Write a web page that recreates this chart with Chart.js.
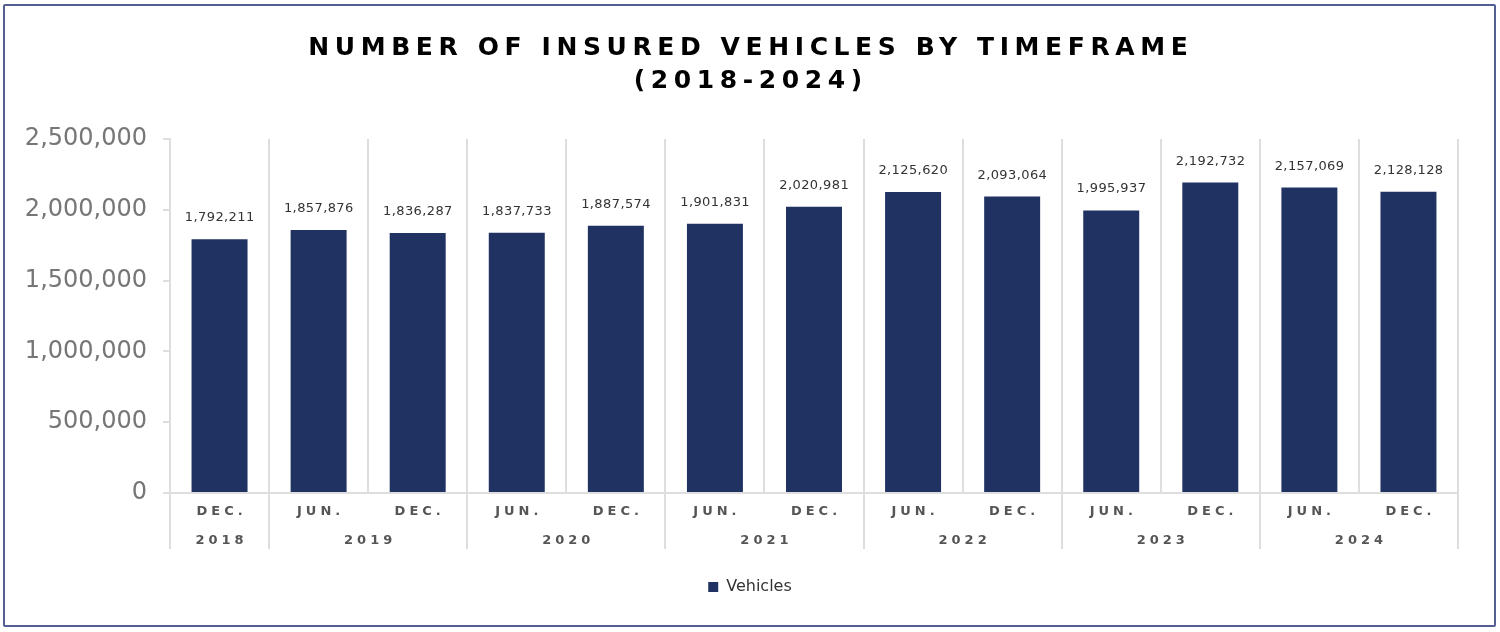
<!DOCTYPE html>
<html lang="en">

<head>
    <meta charset="UTF-8">
    <title>Insured vehicles</title>
    <script src="https://cdn.jsdelivr.net/npm/chart.js"></script>
    <style>
        body { margin: 0; background: #fff; }
        #wrap { position: relative; width: 1500px; height: 632px; }
        #frame { position: absolute; left: 3px; top: 4px; width: 1489px; height: 619px; border: 2px solid #525e94; border-radius: 2px; }
        #Grafico { position: absolute; left: 0; top: 0; }
    </style>
</head>

<body>
    <div id="wrap">
        <div id="frame"></div>
        <canvas id="Grafico" width="1500" height="632"></canvas>
    </div>

<script>
// data
var periods = ['DEC.', 'JUN.', 'DEC.', 'JUN.', 'DEC.', 'JUN.', 'DEC.', 'JUN.', 'DEC.', 'JUN.', 'DEC.', 'JUN.', 'DEC.'];
var years = ['2018', '2019', '2019', '2020', '2020', '2021', '2021', '2022', '2022', '2023', '2023', '2024', '2024'];
var vehicles = [1792211, 1857876, 1836287, 1837733, 1887574, 1901831, 2020981, 2125620, 2093064, 1995937, 2192732, 2157069, 2128128];
var titleLines = ['NUMBER OF INSURED VEHICLES BY TIMEFRAME', '(2018-2024)'];
var seriesName = 'Vehicles';

var barColor = '#1f3262';
var gridColor = '#dedede';
var font = 'DejaVu Sans';

function fmt(v) {
    return v.toLocaleString('en-US');
}

function spacedText(ctx, txt, x, y, spacing) {
    // canvas letterSpacing adds space after the last glyph too, shift back half of it
    ctx.letterSpacing = spacing + 'px';
    ctx.fillText(txt, x + spacing / 2, y);
    ctx.letterSpacing = '0px';
}

// title, value labels, period / year rows
var extras = {
    id: 'extras',
    afterDatasetsDraw: function (chart) {
        var ctx = chart.ctx;
        var meta = chart.getDatasetMeta(0);
        ctx.save();
        ctx.fillStyle = '#333';
        ctx.font = '13px "' + font + '"';
        ctx.textAlign = 'center';
        ctx.textBaseline = 'alphabetic';
        meta.data.forEach(function (bar, i) {
            spacedText(ctx, fmt(vehicles[i]), bar.x, bar.y - 18, 0.4);
        });
        ctx.restore();
    },
    afterDraw: function (chart) {
        var ctx = chart.ctx;
        var x = chart.scales.x;
        var area = chart.chartArea;
        ctx.save();

        // title
        ctx.fillStyle = '#000';
        ctx.textAlign = 'center';
        ctx.textBaseline = 'middle';
        ctx.font = 'bold 25px "' + font + '"';
        spacedText(ctx, titleLines[0], 748, 48, 5.6);
        spacedText(ctx, titleLines[1], 748, 81, 5.6);

        // period row
        ctx.fillStyle = '#555';
        ctx.font = 'bold 13px "' + font + '"';
        periods.forEach(function (p, i) {
            spacedText(ctx, p, x.getPixelForValue(i), 512, 4);
        });

        // year row, one label per run of the same year
        ctx.strokeStyle = gridColor;
        ctx.lineWidth = 2;
        var start = 0;
        for (var i = 1; i <= years.length; i++) {
            if (i === years.length || years[i] !== years[start]) {
                var cx = (x.getPixelForValue(start) + x.getPixelForValue(i - 1)) / 2;
                spacedText(ctx, years[start], cx, 541, 4);
                var edges = [start - 0.5, i - 0.5];
                edges.forEach(function (e) {
                    var px = Math.round(x.getPixelForValue(e));
                    ctx.beginPath();
                    ctx.moveTo(px, area.bottom);
                    ctx.lineTo(px, 549);
                    ctx.stroke();
                });
                start = i;
            }
        }
        ctx.restore();
    }
};

var ctx = document.getElementById('Grafico').getContext('2d');

var meuGrafico = new Chart(ctx, {
    type: 'bar',
    data: {
        labels: periods,
        datasets: [{
            label: seriesName,
            data: vehicles,
            backgroundColor: barColor,
            borderWidth: 0,
            categoryPercentage: 1,
            barPercentage: 0.565
        }]
    },
    options: {
        responsive: false,
        animation: false,
        devicePixelRatio: 1,
        layout: {
            padding: { top: 139, left: 0, right: 0, bottom: 27 }
        },
        scales: {
            x: {
                offset: true,
                ticks: { display: false },
                grid: { offset: true, color: gridColor, lineWidth: 2, drawTicks: false },
                border: { color: gridColor, width: 2 },
                afterFit: function (s) { s.height = 76; }
            },
            y: {
                min: 0,
                max: 2500000,
                ticks: {
                    stepSize: 500000,
                    color: '#767676',
                    padding: 16,
                    font: { family: font, size: 24 },
                    callback: function (v) { return fmt(v); }
                },
                grid: { drawOnChartArea: false, drawTicks: true, tickLength: 7, tickColor: gridColor, lineWidth: 2 },
                border: { color: gridColor, width: 2 },
                afterFit: function (s) { s.width = 170; }
            },
            // empty right-hand axis, only keeps the white margin so the legend stays centred on the page
            yRight: {
                position: 'right',
                min: 0,
                max: 2500000,
                ticks: { display: false },
                grid: { display: false },
                border: { display: false },
                afterFit: function (s) { s.width = 42; }
            }
        },
        plugins: {
            legend: {
                position: 'bottom',
                labels: {
                    boxWidth: 10,
                    boxHeight: 10,
                    padding: 10,
                    color: '#333',
                    font: { family: font, size: 16 }
                }
            },
            tooltip: { enabled: false }
        }
    },
    plugins: [extras]
});
</script>
</body>

</html>
